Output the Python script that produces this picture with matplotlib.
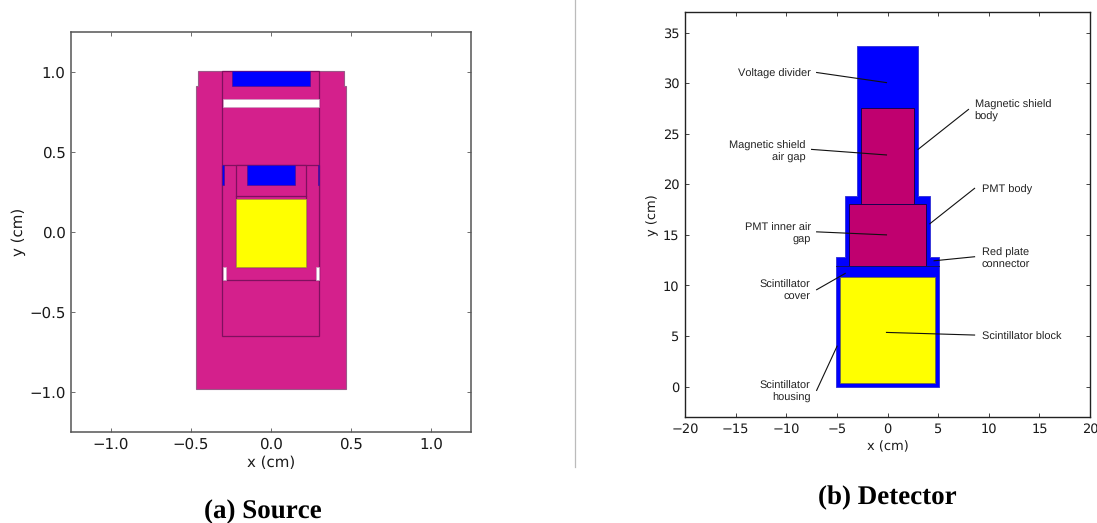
import matplotlib
matplotlib.use("Agg")
import matplotlib.pyplot as plt
from matplotlib.patches import Rectangle, Polygon

plt.rcParams["text.hinting"] = "no_hinting"
plt.rcParams["text.hinting_factor"] = 1

W, H = 1097, 523
MAGENTA_A = "#d4208c"
EDGE_A = "#80105f"
BLUE = "#0000ff"
YELLOW = "#ffff00"
MAGENTA_B = "#c0006f"
EDGE_B = "#1a0050"

# Source geometry (cm)
source_outer_x = [-0.47, -0.47, -0.454, -0.454, 0.454, 0.454, 0.47, 0.47]
source_outer_y = [-0.983, 0.917, 0.917, 1.01, 1.01, 0.917, 0.917, -0.983]
# x, y, width, height
source_frames = [(-0.304, -0.65, 0.606, 1.66), (-0.304, -0.30, 0.606, 0.717), (-0.22, -0.22, 0.44, 0.637)]
source_blue = [(-0.242, 0.9125, 0.484, 0.0975), (-0.15, 0.298, 0.30, 0.119),
               (-0.304, 0.298, 0.008, 0.119), (0.294, 0.298, 0.008, 0.119)]
source_white = [(-0.30, 0.785, 0.60, 0.046), (-0.298, -0.30, 0.018, 0.08), (0.280, -0.30, 0.018, 0.08)]
source_yellow = (-0.22, -0.22, 0.44, 0.43)
source_line_y = 0.225
source_line_x = [-0.22, 0.22]

# Detector geometry (cm)
det_body_x = [-5.04, -5.04, -4.18, -4.18, -3.03, -3.03, 3.03, 3.03, 4.18, 4.18, 5.04, 5.04]
det_body_y = [0, 12.77, 12.77, 18.8, 18.8, 33.65, 33.65, 18.8, 18.8, 12.77, 12.77, 0]
det_shield_gap = (-2.65, 18.05, 5.30, 9.45)
det_pmt_gap = (-3.8, 11.9, 7.6, 6.15)
det_scint = (-4.7, 0.33, 9.4, 10.53)
det_cover_y = 11.9
det_cover_x = [-5.04, 5.04]

# Detector labels: text, text x, text y, alignment, line start, line end
det_labels = [
    ("Voltage divider", -7.6, 30.9, "right", (-7.0, 31.05), (-0.1, 30.05)),
    ("Magnetic shield\nair gap", -8.1, 23.2, "right", (-7.5, 23.45), (-0.1, 22.9)),
    ("Magnetic shield\nbody", 8.6, 27.25, "left", (8.0, 27.4), (3.02, 23.45)),
    ("PMT body", 9.3, 19.4, "left", (8.6, 19.6), (4.18, 16.1)),
    ("PMT inner air\ngap", -7.6, 15.1, "right", (-7.0, 15.3), (-0.1, 15.0)),
    ("Red plate\nconnector", 9.3, 12.67, "left", (8.6, 12.84), (4.6, 12.44)),
    ("Scintillator\ncover", -7.6, 9.45, "right", (-7.0, 9.58), (-4.18, 11.19)),
    ("Scintillator block", 9.3, 4.94, "left", (8.6, 5.1), (-0.1, 5.36)),
    ("Scintillator\nhousing", -7.6, -0.56, "right", (-7.0, -0.37), (-4.98, 4.0)),
]

source_ticks = [-1.0, -0.5, 0.0, 0.5, 1.0]
det_xticks = [-20, -15, -10, -5, 0, 5, 10, 15, 20]
det_yticks = [0, 5, 10, 15, 20, 25, 30, 35]

fig = plt.figure(figsize=(W / 100, H / 100), dpi=100)


def axes_px(x0, y0, x1, y1):
    return fig.add_axes([x0 / W, 1 - y1 / H, (x1 - x0) / W, (y1 - y0) / H])


def rect(ax, r, fc, ec, lw=0.9, z=2):
    ax.add_patch(Rectangle((r[0], r[1]), r[2], r[3], facecolor=fc, edgecolor=ec, linewidth=lw, zorder=z))


def style(ax, size, colour, lw):
    ax.tick_params(direction="in", top=True, right=True, length=3, width=0.6, labelsize=size,
                   pad=4, color=colour, labelcolor="#1a1a1a")
    for s in ax.spines.values():
        s.set_linewidth(lw)
        s.set_color(colour)


# (a) Source
a = axes_px(71, 32.3, 471, 432)
a.set_xlim(-1.25, 1.25)
a.set_ylim(-1.25, 1.25)
a.add_patch(Polygon(list(zip(source_outer_x, source_outer_y)), closed=True, facecolor=MAGENTA_A,
                    edgecolor="#9a5a88", linewidth=0.8, zorder=1))
for r in source_frames:
    rect(a, r, MAGENTA_A, EDGE_A)
for r in source_blue:
    rect(a, r, BLUE, "#50108f", 0.5, 3)
for r in source_white:
    rect(a, r, "white", "#c9a0c0", 0.5, 3)
rect(a, source_yellow, YELLOW, "#b0a030", 0.6, 3)
a.plot(source_line_x, [source_line_y, source_line_y], color=EDGE_A, lw=0.9, zorder=4)
a.set_xticks(source_ticks)
a.set_yticks(source_ticks)
style(a, 11.0, "#555555", 1.1)
a.set_xlabel("x (cm)", fontsize=10.8, labelpad=2.5, color="#1a1a1a")
a.set_ylabel("y (cm)", fontsize=10.8, labelpad=2, color="#1a1a1a")

# (b) Detector
b = axes_px(685, 12.3, 1090, 417)
b.set_xlim(-20, 20)
b.set_ylim(-3, 37)
b.add_patch(Polygon(list(zip(det_body_x, det_body_y)), closed=True, facecolor=BLUE,
                    edgecolor="#3a3ad8", linewidth=0.7, zorder=1))
rect(b, det_shield_gap, MAGENTA_B, EDGE_B, 0.7)
rect(b, det_pmt_gap, MAGENTA_B, EDGE_B, 0.7)
rect(b, det_scint, YELLOW, "#6a6a50", 0.6)
b.plot(det_cover_x, [det_cover_y, det_cover_y], color="#10106a", lw=0.7, zorder=3)
b.set_xticks(det_xticks)
b.set_yticks(det_yticks)
style(b, 9.1, "#222222", 1.0)
b.set_xlabel("x (cm)", fontsize=9.1, labelpad=3.5, color="#1a1a1a")
b.set_ylabel("y (cm)", fontsize=9.1, labelpad=3, color="#1a1a1a")
for label, tx, ty, ha, start, end in det_labels:
    b.text(tx, ty, label, ha=ha, va="center", fontsize=7.85, family="Liberation Sans",
           color="#222222", linespacing=1.22, zorder=6)
    b.plot([start[0], end[0]], [start[1], end[1]], color="#111111", lw=0.8, zorder=5)

# Captions and separator
fig.text(262.5 / W, 1 - 512 / H, "(a) Source", ha="center", va="center", family="Liberation Serif",
         weight="bold", fontsize=19.2, color="black")
fig.text(887 / W, 1 - 497.5 / H, "(b) Detector", ha="center", va="center", family="Liberation Serif",
         weight="bold", fontsize=19.2, color="black")
fig.add_artist(plt.Line2D([575.3 / W, 575.3 / W], [1, 1 - 466.7 / H], color="#bbbbbb", lw=0.9))

fig.savefig("out.png", dpi=100)
